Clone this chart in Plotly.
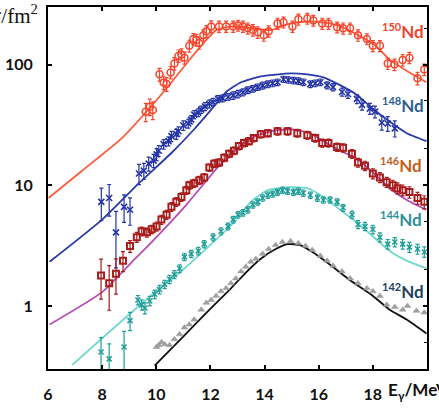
import plotly.graph_objects as go

# ---------------- data ----------------
# 150Nd
nd150_x = [9.61, 9.76, 9.87, 10.12, 10.27, 10.38, 10.53, 10.67, 10.82, 10.93, 11.04, 11.22, 11.37, 11.48, 11.59,
           11.74, 11.85, 12.03, 12.32, 12.58, 12.84, 13.02, 13.20, 13.38, 13.57, 13.75, 13.97, 14.15, 14.48, 14.70,
           15.03, 15.25, 15.58, 15.80, 16.13, 16.36, 16.68, 16.90, 17.16, 17.45, 17.78, 18.00, 18.26, 18.55, 18.80,
           19.10, 19.35, 19.65, 19.90]
nd150_y = [40.7, 44.7, 42.0, 83, 71, 69, 86, 102, 118, 121, 114, 143, 163, 160, 151,
           175, 189, 207, 207, 207, 207, 211, 207, 200, 193, 185, 175, 189, 219, 224,
           207, 237, 241, 232, 219, 219, 204, 200, 200, 175, 163, 143, 143, 102, 100,
           109, 114, 77, 91]
nd150_err = [7, 7, 7, 10, 9, 9, 10, 12, 14, 14, 13, 16, 18, 18, 17,
             19, 21, 23, 22, 22, 22, 22, 22, 21, 21, 20, 19, 20, 23, 23,
             22, 25, 25, 24, 23, 23, 21, 21, 21, 19, 17, 15, 15, 11, 11,
             12, 12, 9, 10]
nd150_fit_x = [6.02, 7.26, 8.73, 9.83, 10.56, 11.29, 11.85, 12.21, 12.76, 13.49, 14.23, 14.96, 15.69, 16.42,
               16.97, 17.52, 18.07, 18.62, 19.35, 19.98]
nd150_fit_y = [7.84, 13.2, 24.6, 45.6, 71.4, 114, 160, 193, 207, 200, 193, 219, 228, 219,
               200, 172, 145, 110, 86, 71.4]

# 148Nd
nd148_x = [7.97, 8.26, 8.51, 8.81, 9.03, 9.36, 9.54, 9.72, 9.90, 10.01, 10.09, 10.27, 10.45, 10.56, 10.74, 10.82,
           11.00, 11.18, 11.29, 11.40, 11.55, 11.66, 11.80, 11.96, 12.10, 12.28, 12.45, 12.65, 12.84, 13.02, 13.20,
           13.38, 13.57, 13.75, 13.93, 14.12, 14.30, 14.48, 14.70, 14.88, 15.07, 15.25, 15.43, 15.69, 15.87, 16.06,
           16.31, 16.53, 16.86, 17.08, 17.41, 17.60, 17.89, 18.08, 18.33, 18.55, 18.81]
nd148_y = [7.28, 7.84, 4.07, 6.62, 6.26, 12.5, 13.2, 15.1, 16.0, 18.0, 19.3, 21.9, 23.2, 25.5, 26.5, 28.0,
           31.3, 32.5, 35.0, 38.5, 40.0, 42.3, 45.0, 47.3, 49.0, 51.9, 52.5, 53.9, 55.5, 57.0, 59.0,
           61.4, 63.0, 65.0, 67.0, 68.8, 70.0, 71.4, 75.5, 74.5, 73.8, 73.0, 71.4, 68.8, 70.0, 71.4,
           67.5, 65.0, 59.2, 57.0, 51.9, 46.4, 43.1, 40.7, 33.1, 32.5, 29.6]
nd148_err = [2.2, 2.3, 2.0, 1.7, 1.6, 2.4, 2.0, 2.0, 2.0, 2.0, 2.0, 2.0, 2.0, 2.5, 2.5, 2.5,
             2.8, 2.8, 2.8, 3.0, 3.0, 3.0, 3.5, 3.5, 3.5, 3.5, 3.5, 3.5, 4.0, 4.0, 4.0,
             4.0, 4.0, 4.0, 4.5, 4.5, 4.5, 4.5, 4.5, 4.5, 4.5, 4.5, 4.5, 4.5, 4.5, 4.5,
             4.5, 4.5, 4.5, 4.5, 4.5, 4.5, 4.5, 4.5, 4.5, 4.5, 4.5]
nd148_fit_x = [6.06, 8.0, 9.36, 10.56, 11.40, 12.03, 12.58, 13.13, 13.86, 14.96, 15.58, 16.17, 16.79, 17.41,
               18.0, 18.62, 19.25, 19.98]
nd148_fit_y = [2.32, 5.19, 10.4, 18.5, 29.1, 42.3, 59.2, 71.4, 79.9, 84.6, 82.9, 78.4, 67.5, 56.0,
               43.1, 33.7, 27.0, 23.2]

# 146Nd
nd146_x = [7.96, 8.26, 8.51, 8.77, 9.03, 9.28, 9.46, 9.65, 9.83, 10.01, 10.19, 10.38, 10.56, 10.74, 10.93,
           11.11, 11.22, 11.40, 11.59, 11.77, 11.96, 12.14, 12.32, 12.51, 12.69, 12.87, 13.05, 13.24, 13.42,
           13.60, 13.86, 14.12, 14.48, 14.85, 15.21, 15.58, 15.87, 16.13, 16.36, 16.68, 16.90, 17.23, 17.45,
           17.71, 18.00, 18.26, 18.51, 18.73, 18.91, 19.10, 19.35, 19.65, 19.90]
nd146_y = [1.79, 1.54, 1.85, 2.37, 3.13, 3.71, 4.15, 4.07, 4.31, 4.56, 5.19, 5.70, 6.62, 7.28, 7.99,
           9.10, 10.0, 10.4, 11.0, 11.6, 14.0, 15.1, 15.4, 16.9, 18.2, 19.3, 21.1, 22.4, 23.2,
           24.6, 26.5, 27.0, 28.0, 28.0, 27.0, 26.0, 24.6, 22.4, 22.4, 20.7, 20.4, 18.2, 15.4,
           14.5, 12.5, 11.6, 10.6, 10.0, 9.45, 9.10, 8.77, 7.84, 7.28]
nd146_err = [0.65, 0.62, 0.60, 0.45, 0.35, 0.35, 0.35, 0.35, 0.35, 0.40, 0.45, 0.50, 0.55, 0.60, 0.65,
             0.70, 0.75, 0.80, 0.85, 0.90, 1.0, 1.1, 1.1, 1.2, 1.3, 1.4, 1.5, 1.6, 1.6,
             1.7, 1.8, 1.9, 2.0, 2.0, 2.0, 1.9, 1.8, 1.7, 1.7, 1.6, 1.6, 1.5, 1.3,
             1.3, 1.2, 1.1, 1.0, 1.0, 1.0, 0.95, 0.95, 0.9, 0.9]
nd146_fit_x = [6.06, 8.0, 9.21, 9.83, 11.11, 12.39, 13.49, 14.23, 14.96, 15.69, 16.17, 16.79, 17.41, 18.0,
               18.62, 19.25, 19.98]
nd146_fit_y = [0.70, 1.30, 2.45, 3.38, 6.88, 15.1, 24.6, 28.0, 29.1, 27.0, 23.2, 19.3, 16.6, 12.8,
               9.45, 7.55, 6.26]

# 144Nd
nd144_x = [7.96, 8.26, 8.81, 9.03, 9.32, 9.46, 9.58, 9.76, 9.94, 10.12, 10.31, 10.49, 10.67, 10.86, 11.04,
           11.29, 11.55, 11.77, 12.10, 12.39, 12.65, 12.84, 13.02, 13.20, 13.38, 13.57, 13.75, 13.93, 14.12,
           14.30, 14.48, 14.66, 14.85, 15.07, 15.25, 15.43, 15.69, 15.95, 16.17, 16.42, 16.68, 16.90, 17.23,
           17.45, 17.71, 18.00, 18.26, 18.55, 18.81, 19.10, 19.35, 19.65, 19.90]
nd144_y = [0.415, 0.364, 0.456, 0.755, 1.12, 1.02, 0.96, 1.10, 1.25, 1.37, 1.51, 1.66, 1.82, 2.04, 2.55,
           2.70, 2.85, 3.25, 3.71, 4.15, 4.56, 5.19, 5.70, 5.92, 6.26, 6.88, 7.28, 7.84, 8.29,
           8.45, 8.77, 9.10, 8.93, 8.77, 8.93, 8.61, 8.29, 7.84, 7.55, 7.55, 7.28, 6.50, 5.70,
           4.73, 4.56, 4.31, 3.71, 3.25, 3.38, 3.25, 3.07, 2.96, 2.80]
nd144_err = [0.13, 0.12, 0.16, 0.13, 0.10, 0.10, 0.10, 0.10, 0.10, 0.11, 0.12, 0.13, 0.14, 0.15, 0.18,
             0.19, 0.20, 0.22, 0.25, 0.28, 0.30, 0.33, 0.35, 0.37, 0.39, 0.42, 0.44, 0.47, 0.50,
             0.50, 0.52, 0.54, 0.53, 0.52, 0.53, 0.52, 0.50, 0.48, 0.46, 0.46, 0.45, 0.42, 0.40,
             0.36, 0.36, 0.35, 0.32, 0.30, 0.30, 0.30, 0.29, 0.28, 0.28]
nd144_fit_x = [6.90, 8.0, 9.83, 11.04, 12.87, 13.49, 14.12, 14.96, 15.58, 16.17, 16.79, 17.41, 18.0, 18.62,
               19.25, 19.98]
nd144_fit_y = [0.325, 0.539, 1.23, 2.04, 4.91, 7.28, 9.10, 9.63, 9.45, 7.99, 6.26, 4.91, 3.78, 2.85,
               2.37, 2.04]

# 142Nd
nd142_x = [10.01, 10.09, 10.19, 10.31, 10.49, 10.67, 10.86, 11.04, 11.22, 11.40, 11.66, 11.85, 12.03, 12.21,
           12.39, 12.58, 12.76, 12.94, 13.13, 13.31, 13.49, 13.68, 13.93, 14.15, 14.41, 14.66, 14.96, 15.25,
           15.51, 15.76, 16.06, 16.31, 16.53, 16.86, 17.16, 17.45, 17.78, 18.00, 18.26, 18.51, 18.81, 19.10,
           19.28, 19.61, 19.90]
nd142_y = [0.456, 0.473, 0.50, 0.48, 0.473, 0.529, 0.581, 0.662, 0.70, 0.77, 0.93, 1.06, 1.12, 1.21,
           1.32, 1.40, 1.54, 1.69, 1.93, 2.11, 2.32, 2.45, 2.70, 2.96, 3.19, 3.38, 3.44, 3.31,
           3.13, 2.91, 2.60, 2.37, 2.15, 1.93, 1.69, 1.54, 1.40, 1.32, 1.21, 1.02, 0.98, 0.93,
           1.00, 0.91, 0.88]
nd142_fit_x = [9.94, 11.04, 12.03, 12.76, 13.31, 13.86, 14.41, 14.85, 15.32, 15.87, 16.42, 17.16, 18.0,
               18.62, 19.25, 19.98]
nd142_fit_y = [0.32, 0.570, 0.963, 1.40, 1.89, 2.46, 2.96, 3.25, 3.19, 2.70, 2.19, 1.63, 1.21,
               0.93, 0.77, 0.59]

x_ticks = [6, 8, 10, 12, 14, 16, 18]
y_ticks = [1, 10, 100]
y_minor = [0.5, 2, 5, 20, 50, 200]
labels = ["150", "148", "146", "144", "142"]

# ---------------- figure ----------------
fig = go.Figure()

def add_fit(x, y, color):
    fig.add_trace(go.Scatter(x=x, y=y, mode="lines",
                             line=dict(color=color, width=1.8, shape="spline", smoothing=0.5),
                             hoverinfo="skip", showlegend=False))

def add_data(x, y, err, color, symbol, size, lw, fill=None):
    marker = dict(symbol=symbol, size=size, color=fill or color, line=dict(color=color, width=lw))
    ebar = dict(type="data", array=err, visible=True, color=color, thickness=1.2, width=2) if err else None
    fig.add_trace(go.Scatter(x=x, y=y, mode="markers", marker=marker, error_y=ebar, showlegend=False))

add_fit(nd150_fit_x, nd150_fit_y, "#ff5a3c")
add_data(nd150_x, nd150_y, nd150_err, "#f5452c", "circle-open", 7, 1.5)

add_fit(nd148_fit_x, nd148_fit_y, "#2a3aa8")
add_data(nd148_x, nd148_y, nd148_err, "#2434a6", "x-thin", 6, 1.6)

add_fit(nd146_fit_x, nd146_fit_y, "#b84cb8")
add_data(nd146_x, nd146_y, nd146_err, "#a81c1c", "square-open", 6, 2)

add_fit(nd144_fit_x, nd144_fit_y, "#6fd8cf")
add_data(nd144_x, nd144_y, nd144_err, "#1f9e98", "x-thin", 5, 1.5)

add_fit(nd142_fit_x, nd142_fit_y, "#111111")
add_data(nd142_x, nd142_y, None, "#9a9a9a", "triangle-up", 6, 0.5, fill="#a0a0a0")

# dummy trace for the right-hand minor tick axis
fig.add_trace(go.Scatter(x=[6], y=[1], yaxis="y2", mode="markers", marker=dict(opacity=0),
                         hoverinfo="skip", showlegend=False))

tickfont = dict(family="Lato, Liberation Sans, sans-serif", size=16, color="#111111", weight="bold")
yr = [-0.5229, 2.4771]

fig.update_layout(
    width=439, height=408,
    margin=dict(l=45, r=12, t=5, b=36),
    paper_bgcolor="white", plot_bgcolor="white",
    showlegend=False,
    xaxis=dict(range=[6, 20], tickvals=x_ticks, ticktext=[str(v) for v in x_ticks],
               ticks="inside", ticklen=4, tickwidth=1.5, tickcolor="black",
               showline=True, linewidth=2, linecolor="black", mirror="ticks",
               showgrid=False, zeroline=False, tickfont=tickfont, ticklabelstandoff=10),
    yaxis=dict(type="log", range=yr, tickvals=y_ticks, ticktext=["1", "10", "100"],
               ticks="inside", ticklen=4, tickwidth=1.5, tickcolor="black",
               showline=True, linewidth=2, linecolor="black", mirror="ticks",
               showgrid=False, zeroline=False, tickfont=tickfont, ticklabelstandoff=10),
    yaxis2=dict(type="log", range=yr, overlaying="y", side="right", tickvals=y_minor,
                ticks="inside", ticklen=3, tickwidth=1, tickcolor="black",
                showticklabels=False, showline=False, showgrid=False, zeroline=False),
)

label_font = dict(family="Lato, Liberation Sans, sans-serif", size=17, weight="bold")
label_pos = [(0.878, 0.935, "#f2432b"), (0.878, 0.730, "#2f5f92"), (0.874, 0.564, "#c4601c"),
             (0.874, 0.414, "#2f8f9c"), (0.878, 0.215, "#22405f")]
for num, (px, py, col) in zip(labels, label_pos):
    txt = "<sup><span style='font-size:11px'>" + num + "</span></sup>Nd"
    fig.add_annotation(x=px, y=py, xref="paper", yref="paper", text=txt, showarrow=False,
                       xanchor="left", yanchor="middle", borderpad=0, font=dict(label_font, color=col))

fig.add_annotation(x=0.893, y=-0.060, xref="paper", yref="paper", text="E<sub>γ</sub>/MeV",
                   showarrow=False, xanchor="left", yanchor="middle",
                   font=dict(family="Lato, Liberation Sans, sans-serif", size=17, color="#111111", weight="bold"))
fig.add_annotation(x=-0.020, y=0.980, xref="paper", yref="paper", text="σ/fm<sup>2</sup>",
                   showarrow=False, xanchor="right", yanchor="middle",
                   font=dict(family="Liberation Serif, serif", size=21, color="#111111"))

fig.write_html("out.html")
